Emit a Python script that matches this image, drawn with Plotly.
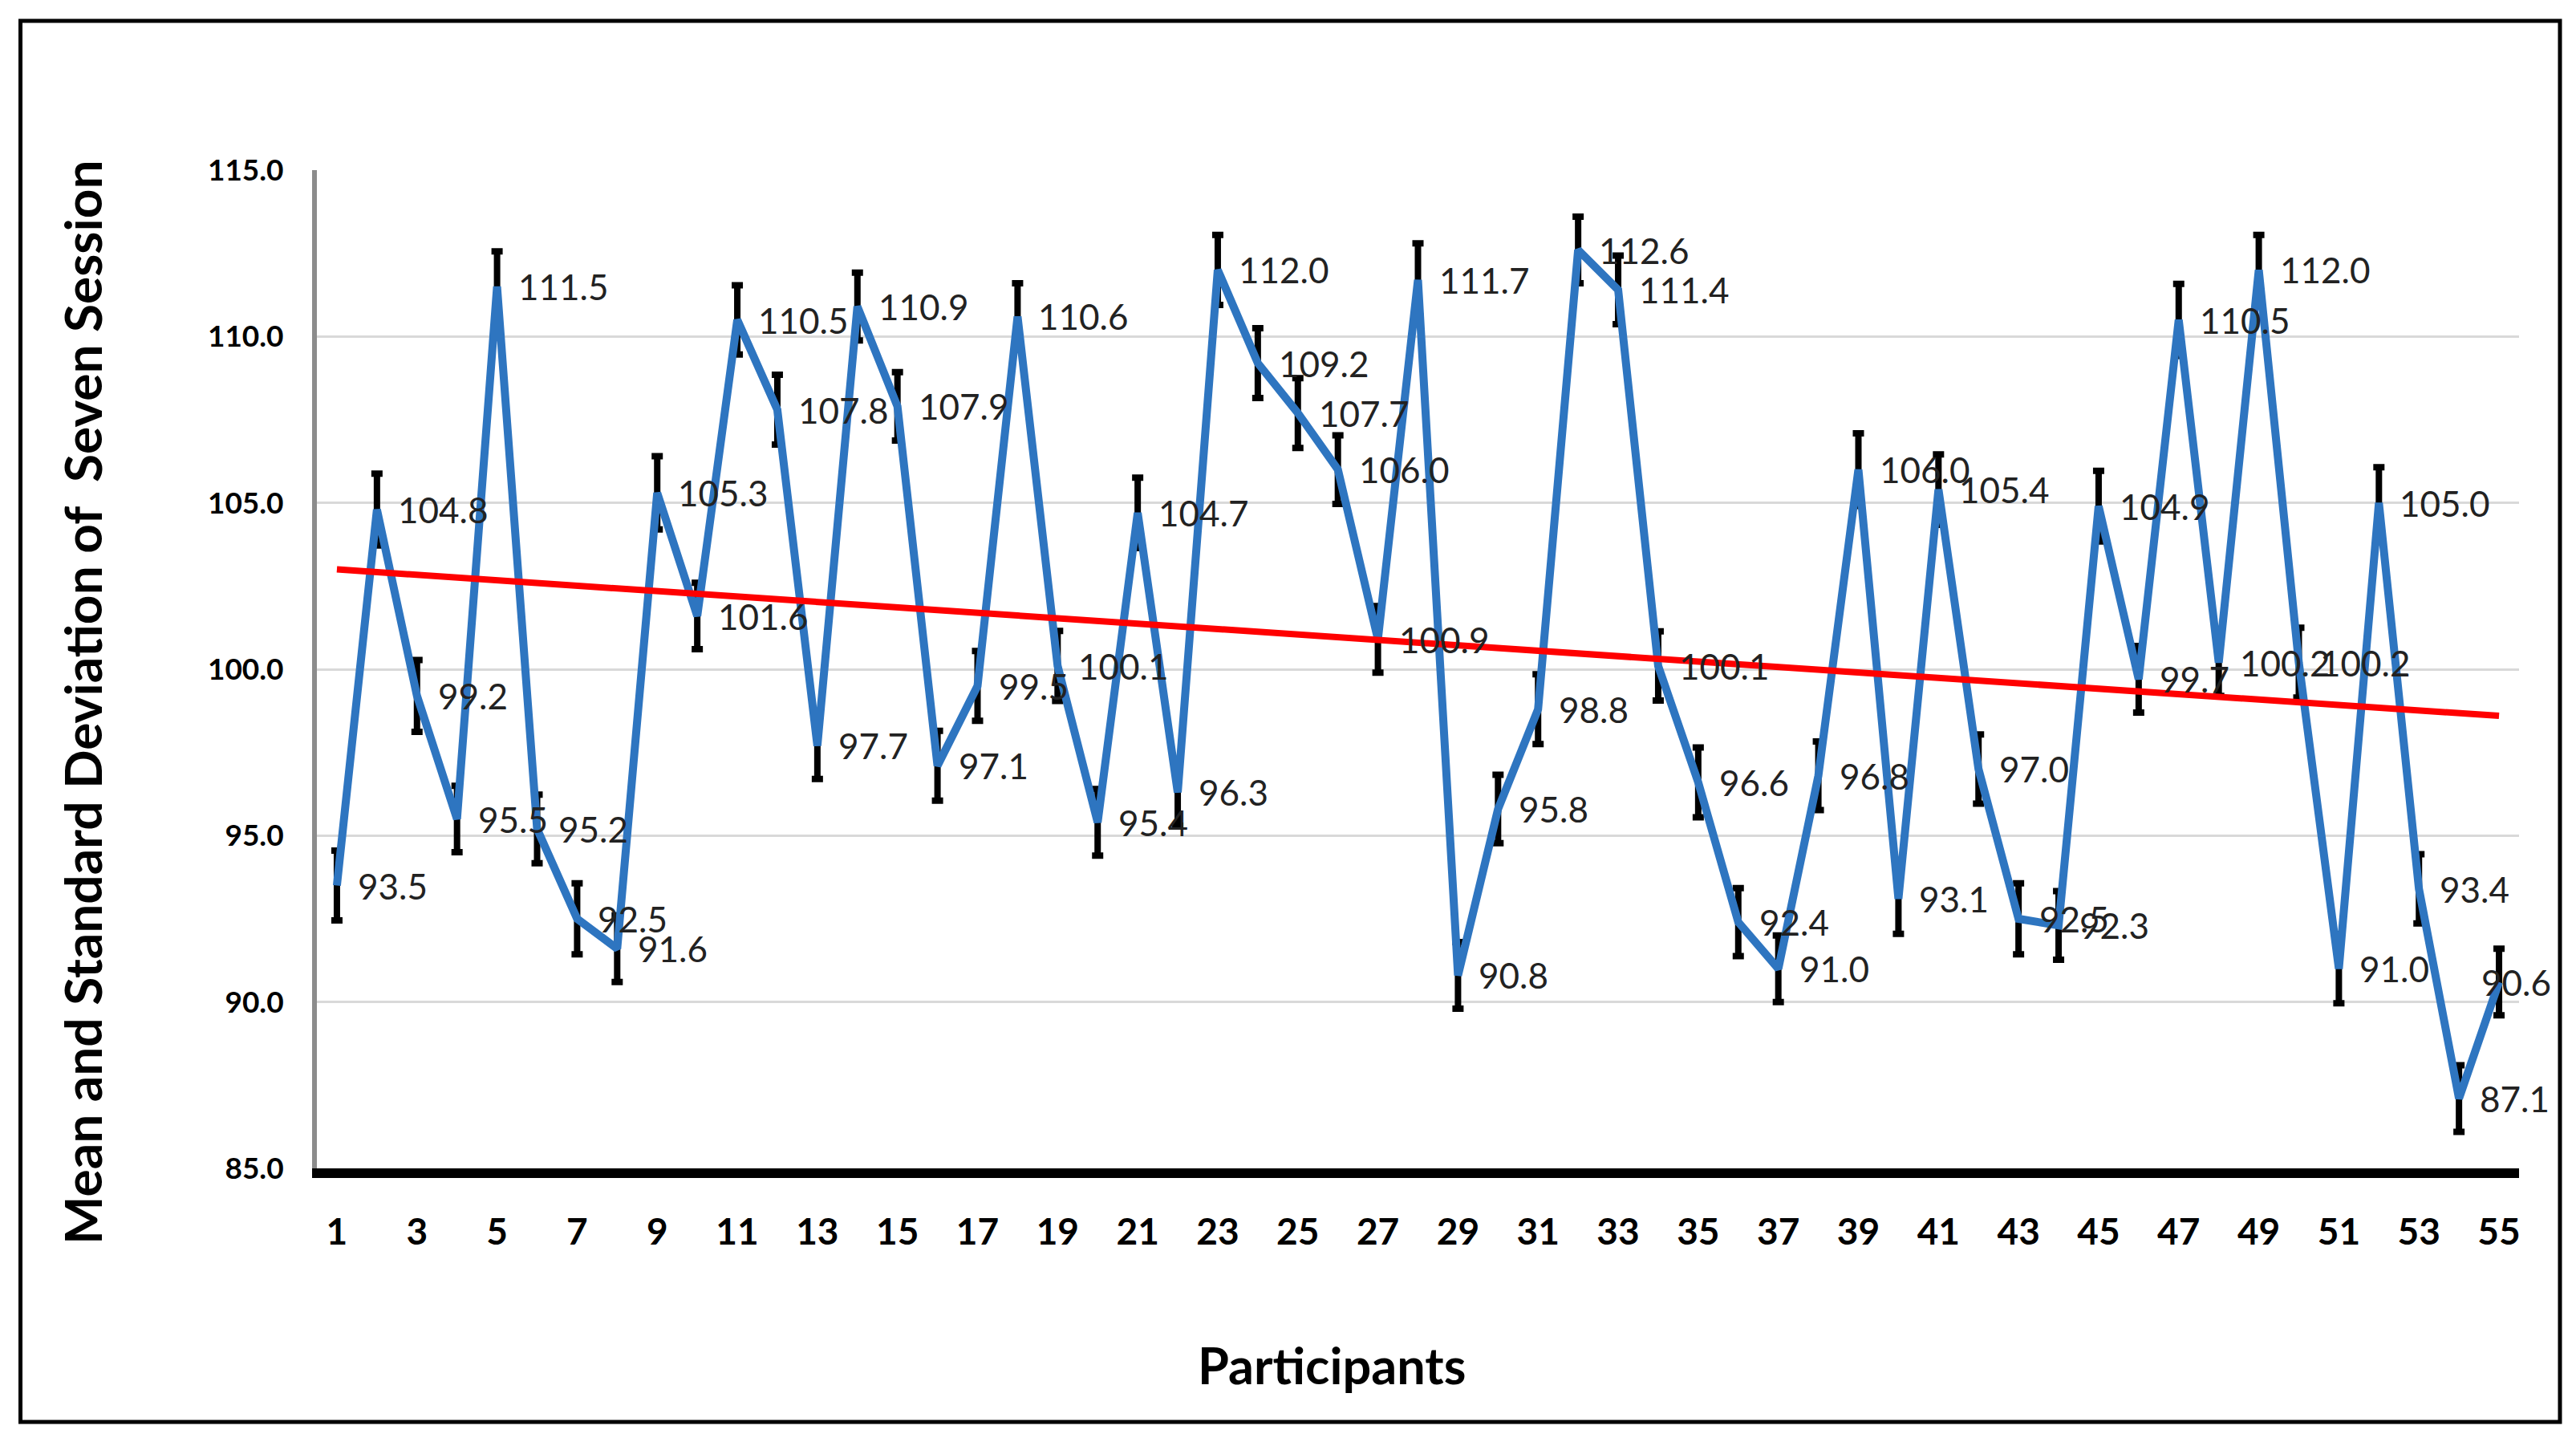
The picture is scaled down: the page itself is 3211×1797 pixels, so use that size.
import plotly.graph_objects as go

# ---------------- data ----------------
participants = list(range(1, 56))
means = [93.5, 104.8, 99.2, 95.5, 111.5, 95.2, 92.5, 91.6, 105.3, 101.6,
         110.5, 107.8, 97.7, 110.9, 107.9, 97.1, 99.5, 110.6, 100.1, 95.4,
         104.7, 96.3, 112.0, 109.2, 107.7, 106.0, 100.9, 111.7, 90.8, 95.8,
         98.8, 112.6, 111.4, 100.1, 96.6, 92.4, 91.0, 96.8, 106.0, 93.1,
         105.4, 97.0, 92.5, 92.3, 104.9, 99.7, 110.5, 100.2, 112.0, 100.2,
         91.0, 105.0, 93.4, 87.1, 90.6]
sds = [1.05, 1.08, 1.08, 1.00, 1.06, 1.03, 1.07, 1.00, 1.10, 1.00,
       1.04, 1.05, 1.00, 1.02, 1.03, 1.05, 1.05, 1.00, 1.05, 1.00,
       1.06, 1.00, 1.05, 1.05, 1.05, 1.03, 1.00, 1.10, 1.00, 1.03,
       1.05, 1.00, 1.03, 1.04, 1.05, 1.02, 1.00, 1.03, 1.09, 1.05,
       1.06, 1.04, 1.07, 1.03, 1.06, 1.00, 1.08, 1.00, 1.05, 1.05,
       1.04, 1.07, 1.04, 1.00, 1.00]
trend_x = [1, 55]
trend_y = [103.0, 98.6]
x_tick_vals = list(range(1, 56, 2))
x_tick_text = [str(v) for v in x_tick_vals]
y_tick_vals = [85, 90, 95, 100, 105, 110, 115]
y_title = "Mean and Standard Deviation of  Seven Session"
x_title = "Participants"

# ---------------- layout geometry (px) ----------------
W, H = 3211, 1797
L, R, T, B = 395, 71, 212, 341
PW, PH = W - L - R, H - T - B


def px_to_paper_x(px):
    return (px - L) / PW


def px_to_paper_y(py):
    return (H - B - py) / PH


fig = go.Figure()

# error bars (under the line)
fig.add_trace(go.Scatter(
    x=participants, y=means, mode="markers",
    marker=dict(size=1, color="rgba(0,0,0,0)"),
    error_y=dict(type="data", array=sds, visible=True, color="black",
                 thickness=8, width=7),
    showlegend=False, hoverinfo="skip"))

# mean line
fig.add_trace(go.Scatter(
    x=participants, y=means, mode="lines",
    line=dict(color="#2E75C0", width=10),
    showlegend=False))

# linear trend line
fig.add_trace(go.Scatter(
    x=trend_x, y=trend_y, mode="lines",
    line=dict(color="#FF0000", width=8),
    showlegend=False))

annotations = []
last = participants[-1]
for p, m in zip(participants, means):
    # the last label is pulled in so it stays inside the chart frame
    shift = -24 if p == last else 24
    annotations.append(dict(
        x=p, y=m, xref="x", yref="y", text=f"{m:.1f}", showarrow=False,
        xanchor="left", yanchor="middle", xshift=shift,
        font=dict(family="Lato", size=44, color="#222222")))

annotations.append(dict(
    x=px_to_paper_x(102), y=px_to_paper_y(875), xref="paper", yref="paper",
    text=y_title, textangle=-90, showarrow=False,
    xanchor="center", yanchor="middle",
    font=dict(family="Lato", size=64, color="black", weight="bold")))

annotations.append(dict(
    x=px_to_paper_x(1660), y=px_to_paper_y(1700), xref="paper", yref="paper",
    text=x_title, showarrow=False, xanchor="center", yanchor="middle",
    font=dict(family="Lato", size=63, color="black", weight="bold")))

fig.update_layout(
    width=W, height=H,
    margin=dict(l=L, r=R, t=T, b=B, pad=0),
    paper_bgcolor="white", plot_bgcolor="white",
    showlegend=False,
    annotations=annotations,
    shapes=[dict(type="rect", xref="paper", yref="paper",
                 x0=px_to_paper_x(25.5), x1=px_to_paper_x(3191),
                 y0=px_to_paper_y(1772), y1=px_to_paper_y(26),
                 line=dict(color="black", width=5), fillcolor="rgba(0,0,0,0)",
                 layer="above")],
    xaxis=dict(range=[0.5, 55.5], tickmode="array", tickvals=x_tick_vals,
               ticktext=x_tick_text, showgrid=False, zeroline=False,
               showline=True, linecolor="black", linewidth=12,
               ticks="outside", ticklen=28, tickcolor="rgba(0,0,0,0)",
               tickfont=dict(family="Lato", size=46, color="black", weight="bold")),
    yaxis=dict(range=[85, 115], tickmode="array", tickvals=y_tick_vals,
               tickformat=".1f", showgrid=True, gridcolor="#D9D9D9", gridwidth=2.5,
               zeroline=False, showline=True, linecolor="#8C8C8C", linewidth=6,
               ticks="outside", ticklen=28, tickcolor="rgba(0,0,0,0)",
               tickfont=dict(family="Lato", size=37, color="black", weight="bold")),
)

fig.write_html("out.html", config={"displayModeBar": False},
               post_script="document.body.style.margin='0';")
